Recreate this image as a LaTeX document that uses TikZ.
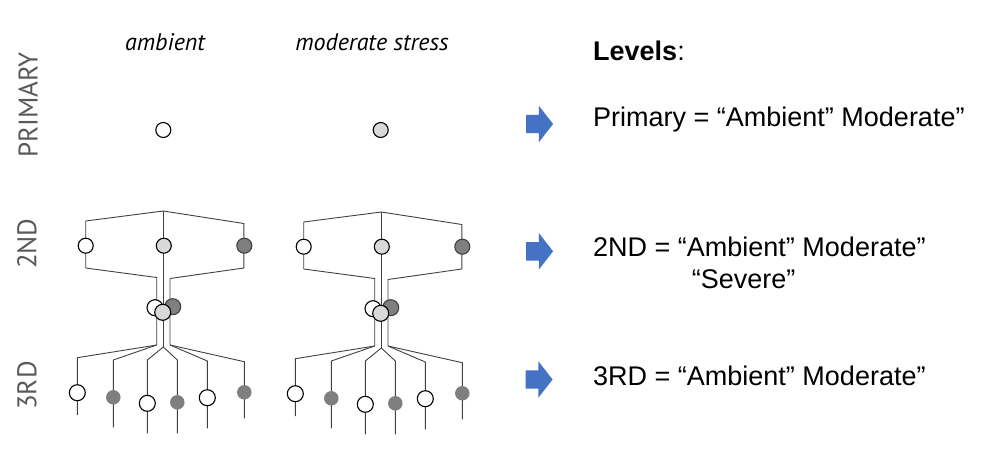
\documentclass[tikz,border=0pt]{standalone}
\usepackage{fontspec}
\setmainfont{Liberation Sans}
\newfontfamily\gillish{PT Sans}
\usetikzlibrary{shapes.arrows}
\definecolor{wiregray}{HTML}{404040}
\definecolor{modgray}{HTML}{D9D9D9}
\definecolor{sevgray}{HTML}{7F7F7F}
\definecolor{labelgray}{HTML}{595959}
\definecolor{arrowblue}{HTML}{4472C4}
\begin{document}
\begin{tikzpicture}[x=1pt,y=-1pt,
  wire/.style={draw=wiregray,line width=0.9pt},
  dot/.style={circle,draw=black,line width=1.1pt,inner sep=0pt,minimum size=15pt},
  amb/.style={dot,fill=white},
  mod/.style={dot,fill=modgray},
  sev/.style={dot,fill=sevgray,draw=wiregray},
  leafamb/.style={amb,minimum size=16pt},
  leafsev/.style={circle,fill=sevgray,inner sep=0pt,minimum size=14.5pt},
  level/.style={rotate=90,text=labelgray,font=\gillish\fontsize{27}{30}\selectfont},
  head/.style={font=\gillish\itshape\fontsize{24}{28}\selectfont},
  txt/.style={anchor=base west,inner sep=0pt,font=\fontsize{27}{32}\selectfont},
  go/.style={single arrow,fill=arrowblue,inner xsep=0pt,inner ysep=9pt,
    minimum height=27pt,single arrow head extend=9pt,single arrow tip angle=104}
]
\useasboundingbox (0,0) rectangle (992,463);

% column heads and level names
\node[head] (h-amb) at (165,42) {ambient};
\node[head] (h-mod) at (372,42) {moderate stress};
\node[level] (lv1) at (28,105) {PRIMARY};
\node[level] (lv2) at (27,243.7) {2ND};
\node[level] (lv3) at (27,385.5) {3RD};

% primary level
\node[amb] (p-amb) at (163.3,130) {};
\node[mod] (p-mod) at (380.7,130) {};

% the two trees
\foreach \t/\dx/\dy in {a/0/0,b/218/1}{
\begin{scope}[xshift=\dx pt,yshift=-\dy pt]
  \coordinate (\t-top) at (163.3,211);
  \coordinate (\t-tl) at (85.7,221);
  \coordinate (\t-tr) at (243.8,223.5);
  \coordinate (\t-bl) at (85.7,268);
  \coordinate (\t-br) at (243.8,268);
  \coordinate (\t-kl) at (156.7,277.5);
  \coordinate (\t-kr) at (170,278.5);
  \coordinate (\t-sl) at (156.7,345);
  \coordinate (\t-sm) at (163.3,347);
  \coordinate (\t-sr) at (170,345);
  \draw[wire] (\t-bl) -- (\t-tl) -- (\t-top) -- (\t-tr) -- (\t-br);
  \draw[wire] (\t-bl) -- (\t-kl) -- (\t-sl);
  \draw[wire] (\t-br) -- (\t-kr) -- (\t-sr);
  \draw[wire] (\t-top) -- (\t-sm);
  % third level leaves
  \foreach \i/\x/\yk/\yc/\ye/\s/\k in {1/77.3/357.7/392.7/415/sl/leafamb,
      2/113.3/360/397.3/427.3/sl/leafsev,
      3/147.3/360/403.3/433.3/sm/leafamb,
      4/177.3/360/402.3/433.3/sm/leafsev,
      5/207.3/361/397.7/428.3/sr/leafamb,
      6/244.3/361.7/392.3/418.3/sr/leafsev}{
    \coordinate (\t-l\i) at (\x,\yk);
    \coordinate (\t-e\i) at (\x,\ye);
    \draw[wire] (\t-\s) -- (\t-l\i) -- (\t-e\i);
    \node[\k] (\t-d\i) at (\x,\yc) {};
  }
  % second level
  \node[amb] (\t-n1) at (85.7,245.7) {};
  \node[mod] (\t-n2) at (163.8,245.7) {};
  \node[sev] (\t-n3) at (244.3,245.7) {};
  \node[amb,minimum size=16pt] (\t-q1) at (155,307.7) {};
  \node[sev,minimum size=16pt] (\t-q2) at (172.7,306.7) {};
  \node[mod,minimum size=16pt] (\t-q3) at (162.7,312.3) {};
\end{scope}
}

% summary
\node[txt] (t0) at (593,60.7) {\textbf{Levels}:};
\node[go] (g1) at (536,124) {};
\node[txt] (t1) at (593,126.7) {Primary = “Ambient” Moderate”};
\node[go] (g2) at (536,251.3) {};
\node[txt] (t2) at (593,256) {2ND = “Ambient” Moderate”};
\node[txt] (t3) at (691.7,288.3) {“Severe”};
\node[go] (g3) at (535.5,379.5) {};
\node[txt] (t4) at (593,385.7) {3RD = “Ambient” Moderate”};
\end{tikzpicture}
\end{document}
